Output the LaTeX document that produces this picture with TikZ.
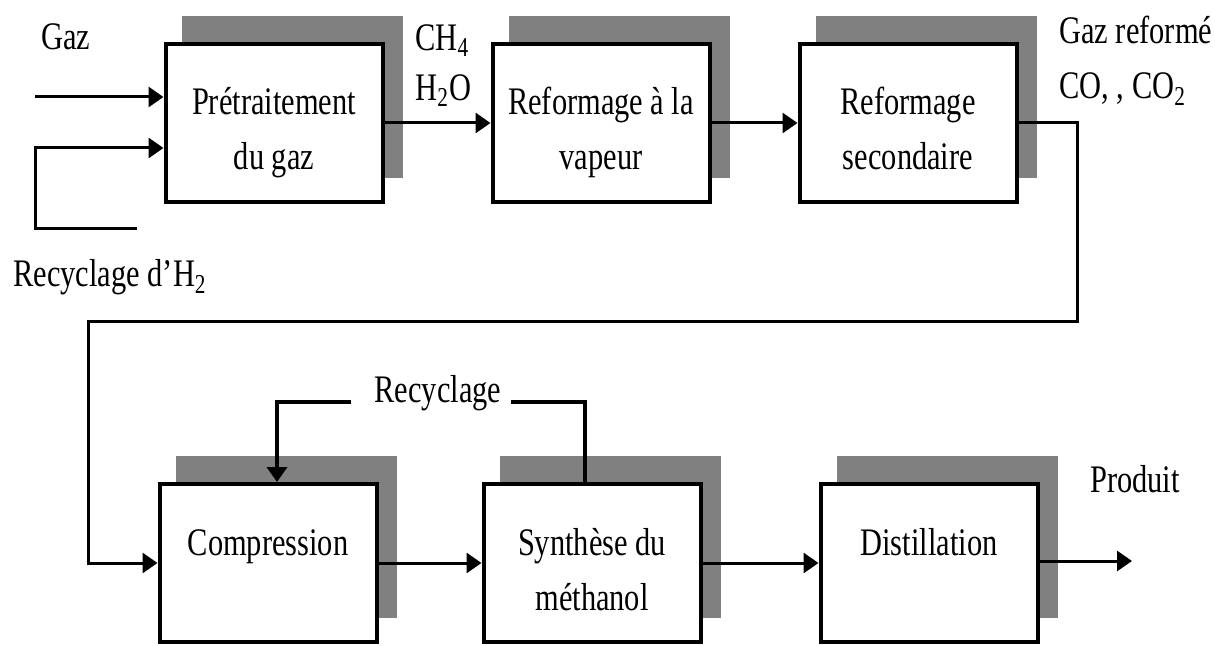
\documentclass[tikz,border=0pt]{standalone}
\usepackage{fontspec}
\setmainfont{Liberation Serif}[FakeStretch=0.78]
\usetikzlibrary{arrows.meta,shadows}
\definecolor{ombre}{HTML}{808080}

\begin{document}
\begin{tikzpicture}[x=0.5pt,y=-0.5pt,
    bloc/.style={draw,line width=2pt,fill=white,minimum width=108.5pt,minimum height=79pt,
      align=center,text height=52pt,text depth=5pt,font=\fontsize{19.5}{27.5}\selectfont,
      general shadow={shadow xshift=9pt,shadow yshift=13pt,fill=ombre,draw=ombre}},
    etiq/.style={inner sep=0pt,font=\fontsize{19.5}{27.5}\selectfont},
    trait/.style={line width=1.5pt},
    fleche/.style={trait,-{Triangle[length=7.5pt,width=10pt]}}]
    \useasboundingbox (0,0) rectangle (1215,646);

    %Blocs
    \node[bloc] (pretrait) at (274,123) {Prétraitement\\du gaz};
    \node[bloc] (vapeur) at (601,123) {Reformage à la\\vapeur};
    \node[bloc] (secondaire) at (908,123) {Reformage\\secondaire};
    \node[bloc] (compression) at (268,563) {Compression\\\mbox{}};
    \node[bloc] (synthese) at (592,563) {Synthèse du\\méthanol};
    \node[bloc] (distillation) at (929,563) {Distillation\\\mbox{}};

    %Textes
    \node[etiq, anchor=base] (gaz) at (66,50) {Gaz};
    \node[etiq, anchor=base west] (recych2) at (13,287) {Recyclage d’H\textsubscript{2}};
    \node[etiq, anchor=north west, align=left, font=\fontsize{19.5}{25}\selectfont] (ch4) at (415,24) {CH\textsubscript{4}\\H\textsubscript{2}O};
    \node[etiq, anchor=north west, align=left] (reforme) at (1059,16) {Gaz reformé\\CO, , CO\textsubscript{2}};
    \node[etiq, anchor=base] (recyc) at (438,402) {Recyclage};
    \node[etiq, anchor=base] (produit) at (1135,492) {Produit};

    %Points libres
    \coordinate (entreegaz) at (35,97);
    \coordinate (h2a) at (137,229);
    \coordinate (h2b) at (35,229);
    \coordinate (boucleA) at (1077,322);
    \coordinate (boucleB) at (88,322);
    \coordinate (sortie) at (1132,561);

    %Entrees
    \draw[fleche] (entreegaz) -- (entreegaz -| pretrait.west);
    \draw[fleche] (h2a) -- (h2b) |- ([yshift=-12.5pt]pretrait.west);

    %Ligne du haut
    \draw[fleche] (pretrait.east) -- (vapeur.west);
    \draw[fleche] (vapeur.east) -- (secondaire.west);

    %Retour vers la compression
    \draw[fleche] (secondaire.east) -| (boucleA) -- (boucleB) |- (compression.west);

    %Ligne du bas
    \draw[fleche] (compression.east) -- (synthese.west);
    \draw[fleche] (synthese.east) -- (distillation.west);
    \draw[fleche] (distillation.east |- sortie) -- (sortie);

    %Recyclage
    \draw[trait, line width=2pt] ([xshift=-3.75pt]synthese.north) |- ([xshift=4.5pt]recyc.base east);
    \draw[fleche, line width=2pt] ([xshift=-11.5pt]recyc.base west) -| ([xshift=4.5pt]compression.north);
\end{tikzpicture}
\end{document}
